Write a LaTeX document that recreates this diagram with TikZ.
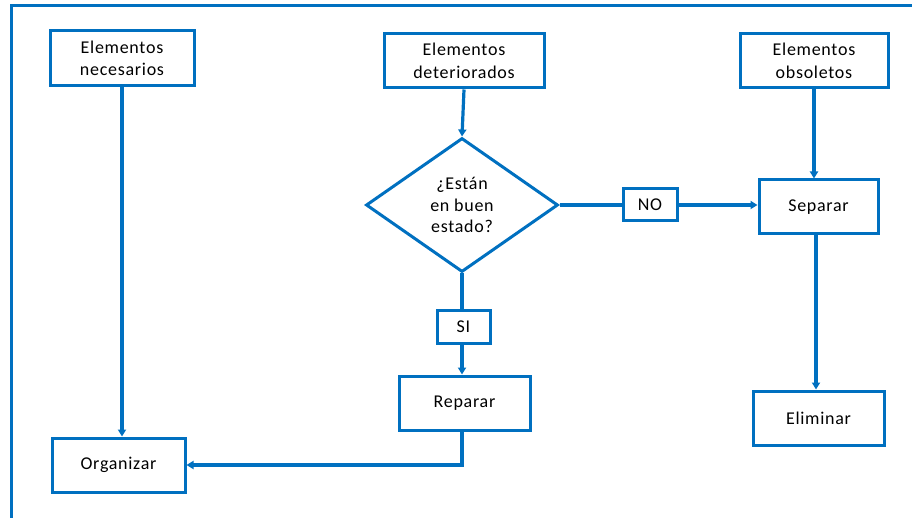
\documentclass[tikz,border=0pt]{standalone}
\usepackage{fontspec}
\setmainfont{Carlito}[LetterSpace=4]
\usetikzlibrary{shapes.geometric,arrows.meta}
\definecolor{flowblue}{RGB}{0,112,192}
\begin{document}
\begin{tikzpicture}[x=1pt,y=-1pt,
  box/.style={draw=flowblue,line width=3pt,fill=white,inner sep=0pt,
    font=\fontsize{18}{22.5}\selectfont,align=center},
  tag/.style={draw=flowblue,line width=3pt,fill=white,inner sep=0pt,
    font=\fontsize{18}{20}\selectfont},
  decision/.style={diamond,draw=flowblue,line width=3pt,fill=white,inner sep=0pt,
    font=\fontsize{18}{21.5}\selectfont,align=center},
  link/.style={draw=flowblue,line width=3.2pt},
  arrow/.style={link,-{Triangle[length=7pt,width=8pt]}}]
\useasboundingbox (0,0) rectangle (912,518);
% outer frame (only top and left edges show)
\draw[flowblue,line width=3pt] (912,6) -- (11,6) -- (11,518);
% process boxes
\node[box,minimum width=144pt,minimum height=55pt] (nec) at (122,58.5) {Elementos\\necesarios};
\node[box,minimum width=160pt,minimum height=54pt] (det) at (464,61) {Elementos\\deteriorados};
\node[box,minimum width=148pt,minimum height=54pt] (obs) at (814,61) {Elementos\\obsoletos};
\node[decision,minimum width=192pt,minimum height=134pt,aspect=1.43] (q) at (462,205) {¿Están\\en buen\\estado?};
\node[tag,minimum width=54pt,minimum height=32pt] (no) at (650,205) {NO};
\node[box,minimum width=119pt,minimum height=54pt] (sep) at (818.5,207) {Separar};
\node[tag,minimum width=53pt,minimum height=32pt] (si) at (463.5,327) {SI};
\node[box,minimum width=131pt,minimum height=54pt] (rep) at (464.5,403) {Reparar};
\node[box,minimum width=133pt,minimum height=54pt] (org) at (118.5,465) {Organizar};
\node[box,minimum width=131pt,minimum height=54pt] (eli) at (818.5,418) {Eliminar};
% connectors
\draw[arrow] (nec.south) -- (org.north -| nec.south);
\draw[arrow] (det.south) -- (q.north);
\draw[link] (q.east) -- (no.west);
\draw[arrow] (no.east) -- (sep.west |- no.east);
\draw[arrow] (obs.south) -- (sep.north -| obs.south);
\draw[link] (q.south) -- (si.north -| q.south);
\draw[arrow] (si.south -| q.south) -- (rep.north -| q.south);
\draw[arrow] (sep.south -| 816,0) -- (eli.north -| 816,0);
\draw[arrow] (rep.south -| q.south) |- (org.east);
\end{tikzpicture}
\end{document}
